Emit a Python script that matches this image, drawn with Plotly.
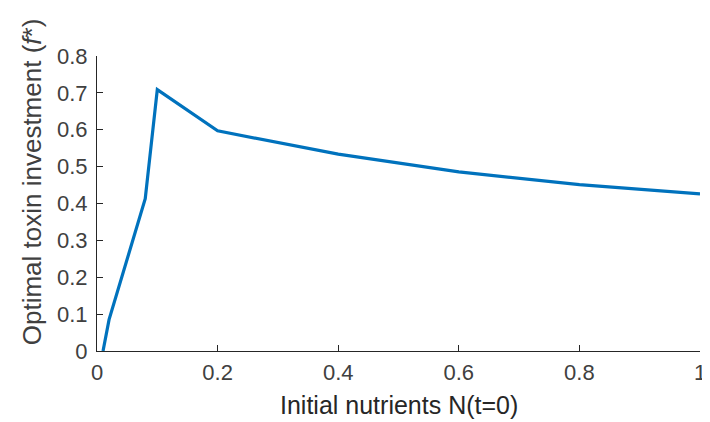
import plotly.graph_objects as go

# Data
nutrients = [0.01, 0.02, 0.08, 0.10, 0.20, 0.40, 0.60, 0.80, 1.00]
toxin_investment = [0.0, 0.085, 0.413, 0.709, 0.597, 0.534, 0.486, 0.451, 0.426]

x_ticks = [0, 0.2, 0.4, 0.6, 0.8, 1]
x_tick_labels = ["0", "0.2", "0.4", "0.6", "0.8", "1"]
y_ticks = [0, 0.1, 0.2, 0.3, 0.4, 0.5, 0.6, 0.7, 0.8]
y_tick_labels = ["0", "0.1", "0.2", "0.3", "0.4", "0.5", "0.6", "0.7", "0.8"]

x_title = "Initial nutrients N(t=0)"
y_title = "Optimal toxin investment (<i>f</i>*)"

axis_color = "#262626"
font_family = "Liberation Sans, Arial, Helvetica, sans-serif"

fig = go.Figure()
fig.add_trace(go.Scatter(
    x=nutrients, y=toxin_investment, mode="lines",
    line=dict(color="#0072BD", width=3.2),
    showlegend=False, hoverinfo="skip",
))

axis_common = dict(
    showline=True, linecolor=axis_color, linewidth=1,
    ticks="inside", ticklen=6, tickwidth=1, tickcolor=axis_color,
    showgrid=False, zeroline=False,
    tickfont=dict(family=font_family, size=22, color="#404040"),
)

fig.update_xaxes(range=[0, 1], tickvals=x_ticks, ticktext=x_tick_labels,
                 ticklabelstandoff=2, **axis_common)
fig.update_yaxes(range=[0, 0.8], tickvals=y_ticks, ticktext=y_tick_labels,
                 ticklabelstandoff=4, **axis_common)

fig.add_annotation(text=x_title, xref="paper", yref="paper", x=0.5, y=-0.184,
                   xanchor="center", yanchor="middle", showarrow=False,
                   font=dict(family=font_family, size=25, color="#262626"))
fig.add_annotation(text=y_title, xref="paper", yref="paper", x=-0.108, y=0.575,
                   xanchor="center", yanchor="middle", showarrow=False, textangle=-90,
                   font=dict(family=font_family, size=26, color="#404040"))

fig.update_layout(
    width=710, height=422,
    margin=dict(l=89, r=15, t=48, b=79, pad=0),
    paper_bgcolor="white", plot_bgcolor="white",
    font=dict(family=font_family, color=axis_color),
)

fig.write_html("out.html")
